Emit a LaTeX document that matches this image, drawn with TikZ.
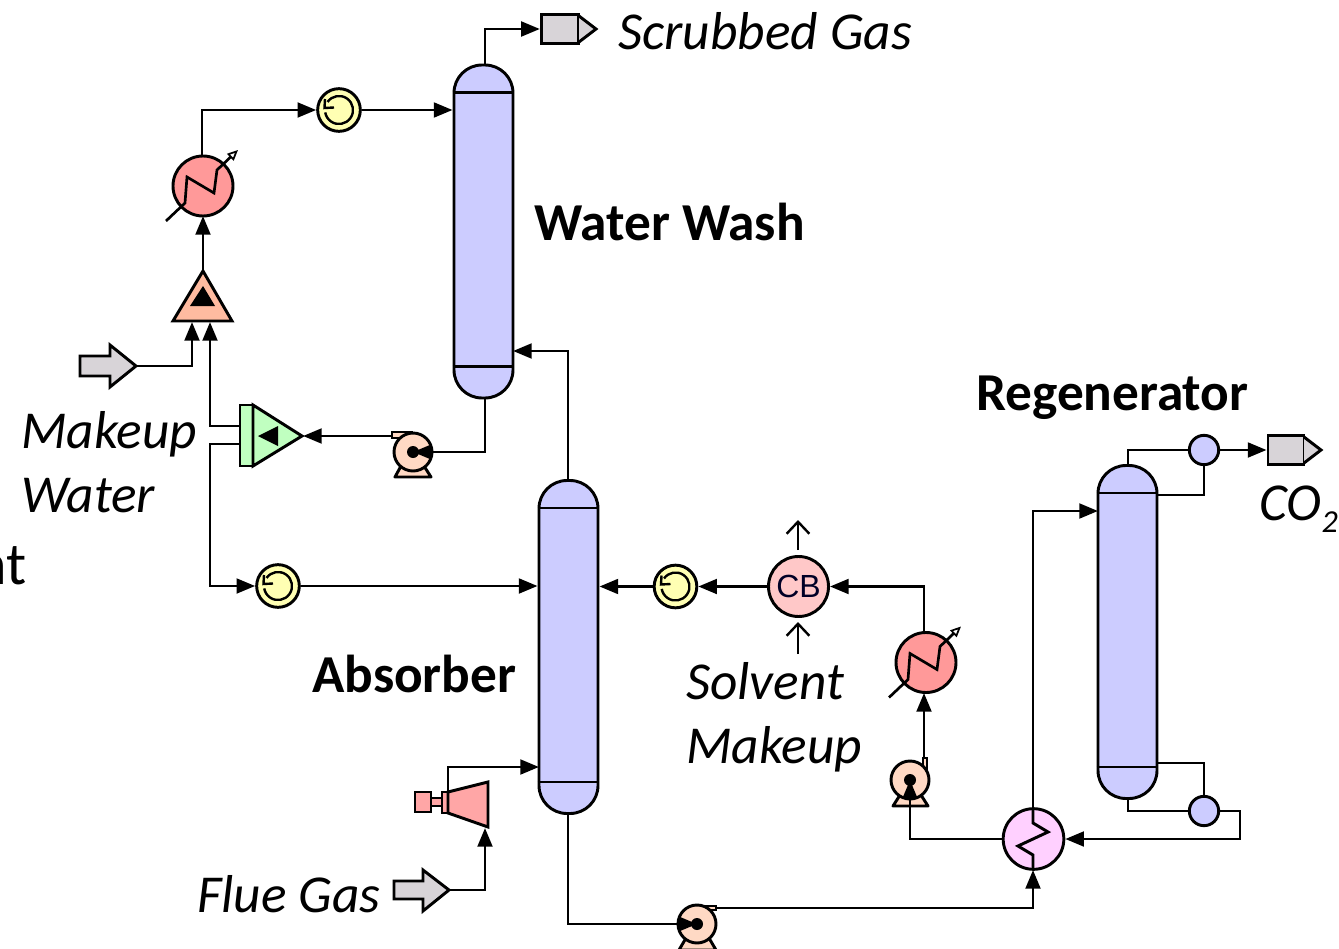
\documentclass[tikz,border=0pt]{standalone}
\usepackage{fontspec}
\setmainfont{Carlito}
\newfontfamily\arialf{Liberation Sans}
\usetikzlibrary{arrows.meta,calc}
\definecolor{colfill}{HTML}{CCCCFF}
\definecolor{prodfill}{HTML}{D8D4D8}
\definecolor{heatfill}{HTML}{FF9999}
\definecolor{coolfill}{HTML}{FFFFB3}
\definecolor{mixfill}{HTML}{FFBBA0}
\definecolor{splitfill}{HTML}{C0FFC0}
\definecolor{pumpfill}{HTML}{FFD9C4}
\definecolor{cbfill}{HTML}{FFC8C8}
\definecolor{hxfill}{HTML}{FFD0FF}
\definecolor{compfill}{HTML}{FFA6A6}
\tikzset{
  x=0.75pt,y=-0.75pt,
  eq/.style={draw=black,line width=2.2pt},
  stream/.style={line width=2.2pt,-{Triangle[length=14pt,width=11pt]},line join=miter},
  plainstream/.style={line width=2.2pt,line join=miter},
  column/.style={eq,fill=colfill,rectangle,rounded corners=21pt,minimum width=44.25pt,minimum height=249.75pt,inner sep=0pt},
  disc/.style={eq,fill=#1,circle,inner sep=0pt,minimum size=44.5pt},
  drum/.style={eq,fill=colfill,circle,inner sep=0pt,minimum size=22pt},
  pumpbody/.style={eq,fill=pumpfill,circle,inner sep=0pt,minimum size=28.5pt},
  cool/.style={eq,fill=coolfill,circle,inner sep=0pt,minimum size=32pt},
  lab/.style={anchor=base west,inner sep=0pt,font=\fontsize{40pt}{40pt}\selectfont\itshape},
  blab/.style={anchor=base west,inner sep=0pt,font=\fontsize{40pt}{40pt}\selectfont\bfseries},
  frag/.style={anchor=base east,inner sep=0pt,font=\fontsize{45pt}{45pt}\selectfont},
  opentip/.style={line width=1.8pt,-{Straight Barb[length=9pt,width=17pt,line width=1.8pt]}},
  pics/heater/.style={code={
    \node[disc=heatfill,minimum size=45pt] (-c) at (0,0) {};
    \draw[line width=2pt,-{Triangle[fill=white,length=8pt,width=7pt,line width=1.3pt]},line join=miter]
      (-37,35) -- (-18,17) -- (-16,-9) -- (11,7) -- (14,-16) -- (35,-36);
  }},
  pics/coolsym/.style={code={
    \draw[line width=1.8pt] (215:14) arc[start angle=215,end angle=530,radius=14];
    \draw[line width=1.8pt,line join=miter] (-14,-11) -- (-14.5,-2) -- (-5,-2.5);
  }},
}
\begin{document}
\begin{tikzpicture}
\useasboundingbox[clip] (0,0) rectangle (1339,949);
% columns
\node[column] (ww) at (483.5,231.5) {};
\draw[line width=2pt] ([yshift=-21.75pt]ww.north west) -- ([yshift=-21.75pt]ww.north east);
\draw[line width=2pt] ([yshift=24.75pt]ww.south west) -- ([yshift=24.75pt]ww.south east);
\node[column] (abs) at (568.5,647) {};
\draw[line width=2pt] ([yshift=-21.75pt]abs.north west) -- ([yshift=-21.75pt]abs.north east);
\draw[line width=2pt] ([yshift=24.75pt]abs.south west) -- ([yshift=24.75pt]abs.south east);
\node[column] (reg) at (1127.5,632) {};
\draw[line width=2pt] ([yshift=-21.75pt]reg.north west) -- ([yshift=-21.75pt]reg.north east);
\draw[line width=2pt] ([yshift=24.75pt]reg.south west) -- ([yshift=24.75pt]reg.south east);
% heaters
\pic (hone) at (203,186) {heater};
\pic (htwo) at (926,662.5) {heater};
% coolers
\node[cool] (cone) at (339,110) {};
\pic at (339,110) {coolsym};
\node[cool] (ctwo) at (278,586) {};
\pic at (278,586) {coolsym};
\node[cool] (cthree) at (675.5,586.5) {};
\pic at (675.5,586.5) {coolsym};
% CB
\node[disc=cbfill,minimum size=45pt,font=\arialf\fontsize{24pt}{24pt}\selectfont,text=black!85!blue] (cb) at (798.5,586.5) {CB};
% HX
\node[disc=hxfill,minimum size=45.5pt] (hx) at (1033.5,839) {};
% drums
\node[drum] (cond) at (1204,450) {};
\node[drum] (reb) at (1204,811) {};
% products
\node[eq,fill=prodfill,minimum width=28pt,minimum height=22pt,inner sep=0pt] (pgas) at (560,29) {};
\draw[eq,fill=prodfill,line join=miter] (579,16) -- (596,29) -- (579,42);
\node[eq,fill=prodfill,minimum width=27pt,minimum height=22pt,inner sep=0pt] (pco) at (1286,450) {};
\draw[eq,fill=prodfill,line join=miter] (1304,437) -- (1321,450) -- (1304,463);
% feeds
\draw[eq,fill=prodfill,line join=miter] (80,356) -- (110,356) -- (110,345) -- (136,366) -- (110,387) -- (110,376) -- (80,376) -- cycle;
\coordinate (fwater) at (136,366);
\draw[eq,fill=prodfill,line join=miter] (394,881) -- (423,881) -- (423,870) -- (449,890) -- (423,911) -- (423,899) -- (394,899) -- cycle;
\coordinate (fflue) at (449,890);
% mixer
\draw[eq,fill=mixfill,line join=miter] (203,271) -- (232,321) -- (173,321) -- cycle;
\fill (203,286) -- (215,306) -- (190,306) -- cycle;
\coordinate (mixtop) at (203,271);
\coordinate (mixin) at (192,322);
\coordinate (mixinb) at (210,322);
% splitter
\draw[eq,fill=splitfill,line join=miter] (240,405) rectangle (253,466);
\draw[eq,fill=splitfill,line join=miter] (253,405) -- (302,436) -- (253,466) -- cycle;
\fill (258,436) -- (278,426) -- (278,446) -- cycle;
\coordinate (spl) at (303,436);
\coordinate (splu) at (240,426);
\coordinate (spld) at (240,444);
% pumps
\draw[eq,fill=pumpfill,line join=round] (401,466) -- (395,477) -- (431,477) -- (424,466) -- cycle;
\draw[eq,fill=pumpfill] (392,432) rectangle (412,438);
\node[pumpbody] (pone) at (413,452) {};
\coordinate (poneout) at (392,436);
\draw[eq,fill=pumpfill,line join=round] (900,795) -- (893,806) -- (928,806) -- (921,795) -- cycle;
\draw[eq,fill=pumpfill] (923,758) rectangle (927,772);
\node[pumpbody] (ptwo) at (910,780) {};
\coordinate (ptwoout) at (924,758);
\draw[eq,fill=pumpfill,line join=round] (686,938) -- (679,950) -- (716,950) -- (709,938) -- cycle;
\draw[eq,fill=pumpfill] (697,906) rectangle (716,910);
\node[pumpbody] (pthree) at (697,924) {};
\coordinate (pthreeout) at (716,908);
% compressor
\draw[eq,fill=compfill] (415,792) rectangle (431,812);
\draw[eq,fill=compfill] (431,798) rectangle (442,806);
\draw[eq,fill=compfill] (442,792) rectangle (448,813);
\draw[eq,fill=compfill,line join=miter] (448,792) -- (488,782) -- (488,827) -- (448,813) -- cycle;
\coordinate (compout) at (448,792);
\coordinate (compin) at (485,828);
% streams
\coordinate (wwtop) at (485,65);
\draw[stream] (wwtop) |- (pgas.west);
\draw[stream] (hone-c.north -| 202,0) |- (cone.west);
\draw[stream] (cone.east) -- (cone.east -| ww.west);
\draw[stream] (mixtop) -- (203,216);
\draw[stream] (fwater) -| (mixin);
\draw[stream] (splu) -| (mixinb);
\draw[stream] (spld) -| (210,586) -- (ctwo.west);
\draw[stream] (ctwo.east) -- (ctwo.east -| abs.west);
\draw[stream] (poneout) -- (spl);
\coordinate (wwbot) at (485,398);
\draw[stream] (wwbot) |- (pone.center);
\coordinate (abstop) at (568,481);
\draw[stream] (abstop) |- (513,351);
\draw[stream] (cthree.west) -- (cthree.west -| abs.east);
\draw[stream] (cb.west) -- (cthree.east);
\draw[stream] (htwo-c.north -| 924,0) |- (cb.east);
\draw[stream] (ptwoout) -- (924,693);
\coordinate (absbot) at (568,813);
\draw[stream] (absbot) |- (pthree.center);
\draw[stream] (pthreeout) -| (1033,870);
\draw[stream] (compout) |- (539,767);
\draw[stream] (fflue) -| (compin);
\draw[stream] (hx.west) -| (ptwo.center);
\draw[stream] (1033,820) -- (1033,511) -- (1098,511);
\draw[plainstream] (1033,808) -- (1033,823) -- (1048,832) -- (1018,846) -- (1033,855) -- (1033,870);
\coordinate (regtop) at (1128,466);
\draw[plainstream] (regtop) |- (cond.west);
\draw[plainstream] (cond.south) |- (1157,495);
\draw[stream] (cond.east) -- (pco.west);
\coordinate (regbot) at (1128,798);
\draw[plainstream] (regbot) |- (reb.west);
\draw[plainstream] (reb.north) |- (1157,763);
\draw[stream] (reb.east) -- (1240,811) -- (1240,839) -- (hx.east);
% pump marks
\fill (pone.center) circle (6);
\fill (ptwo.center) circle (6);
\fill (pthree.center) circle (6);
% solvent makeup stubs
\coordinate (cbtopa) at (798,550);
\coordinate (cbtopb) at (798,520);
\coordinate (cbbota) at (798,654);
\coordinate (cbbotb) at (798,622);
\draw[opentip] (cbtopa) -- (cbtopb);
\draw[opentip] (cbbota) -- (cbbotb);
% text
\node[lab] (t1) at (618,50) {Scrubbed Gas};
\node[blab] (t2) at (534,240) {Water Wash};
\node[blab] (t3) at (976,410) {Regenerator};
\node[blab] (t4) at (312,692) {Absorber};
\node[lab] (t5) at (21,448) {Makeup};
\node[lab] (t6) at (21,512) {Water};
\node[lab] (t7) at (686,699) {Solvent};
\node[lab] (t8) at (686,763) {Makeup};
\node[lab] (t9) at (197,912) {Flue Gas};
\node[lab] (t10) at (1259,520) {CO\raisebox{-9pt}{\fontsize{24pt}{24pt}\selectfont 2}};
\node[frag] (t11) at (27,584) {nt};
\node[frag] (t12) at (2,384) {e};
\end{tikzpicture}
\end{document}
